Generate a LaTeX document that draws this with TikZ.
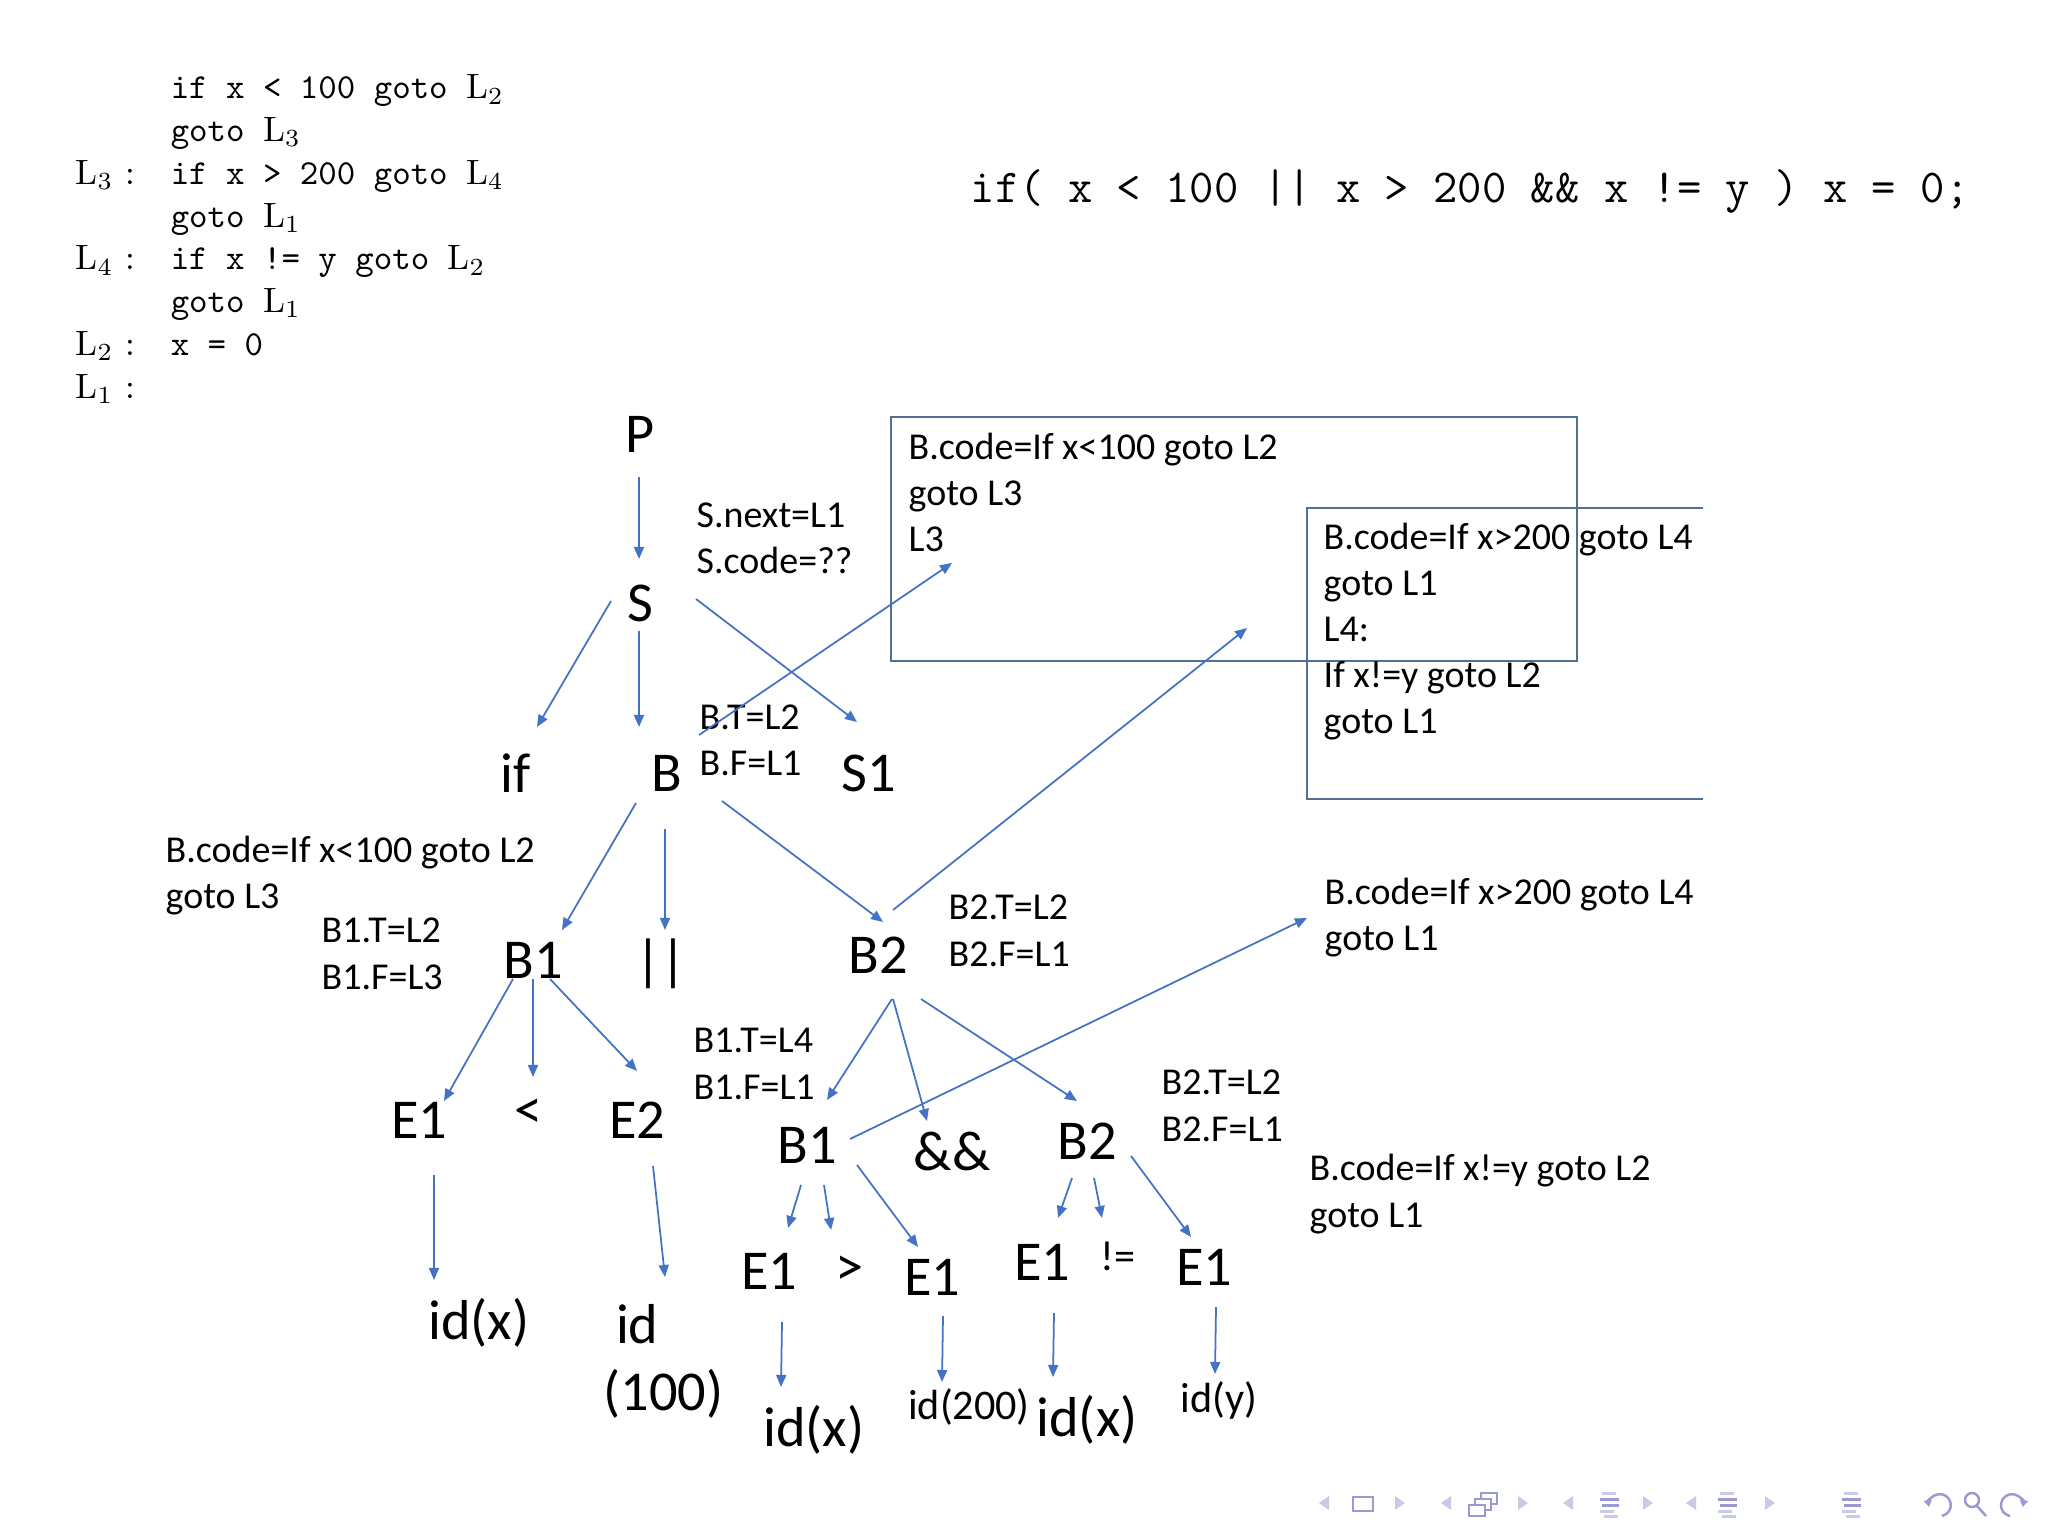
\documentclass[tikz,border=0pt]{standalone}
\usepackage{fontspec}
\usepackage{tikz}
\usetikzlibrary{arrows.meta, positioning}
\newfontfamily\treefont{Carlito}
\definecolor{ArrowBlue}{HTML}{4472C4}
\definecolor{BoxLine}{HTML}{52718F}
\definecolor{NavLight}{HTML}{CACAE8}
\definecolor{NavIcon}{HTML}{9A9AD2}

\begin{document}
\begin{tikzpicture}[x=0.01cm, y=-0.01cm,
    sym/.style={font=\treefont\fontsize{16}{19}\selectfont, inner sep=0pt},
    symsmall/.style={font=\treefont\fontsize{12}{14}\selectfont, inner sep=0pt},
    attr/.style={font=\treefont\fontsize{10.8}{13.1}\selectfont, align=left, inner sep=0pt, anchor=base west},
    edge/.style={draw=ArrowBlue, line width=0.5pt, -{Triangle[length=1.2mm, width=1mm]}},
    codebox/.style={draw=BoxLine, line width=0.5pt}]
  \useasboundingbox (0,0) rectangle (2048,1540);

  \node[anchor=base west, inner sep=0pt, font=\fontsize{10}{12.15}\selectfont] (tac) at (75,99) {%
    \begin{tabular}[t]{@{}p{0.95cm}@{}l@{}}
       & \texttt{if x < 100 goto }$\mathrm{L}_2$\\
       & \texttt{goto }$\mathrm{L}_3$\\
      $\mathrm{L}_3$ : & \texttt{if x > 200 goto }$\mathrm{L}_4$\\
       & \texttt{goto }$\mathrm{L}_1$\\
      $\mathrm{L}_4$ : & \texttt{if x != y goto }$\mathrm{L}_2$\\
       & \texttt{goto }$\mathrm{L}_1$\\
      $\mathrm{L}_2$ : & \texttt{x = 0}\\
      $\mathrm{L}_1$ : &
    \end{tabular}};
  \node[anchor=base west, inner sep=0pt, font=\ttfamily\fontsize{13.45}{16}\selectfont] (src) at (970,203) {if( x < 100 || x > 200 \&\& x != y ) x = 0;};

  \draw[codebox] (891,417) rectangle (1577,661);
  \node[attr] (boxa) at (908,552) {B.code=If x<100 goto L2\\goto L3\\L3};
  \draw[codebox] (1703,508) -- (1307,508) -- (1307,799) -- (1703,799);
  \node[attr] (boxb) at (1323,734) {B.code=If x>200 goto L4\\goto L1\\L4:\\If x!=y goto L2\\goto L1};
  \coordinate (boxtip) at (952,563);
  \coordinate (tipb) at (1247,628);
  \coordinate (tipc) at (1307,918);

  \node[sym] (P) at (640,434) {P};
  \node[sym] (S) at (640,603) {S};
  \node[sym] (if) at (516,773) {if};
  \node[sym] (B) at (667,773) {B};
  \node[sym] (S1) at (869,773) {S1};
  \node[sym] (B1) at (533,960) {B1};
  \node[sym] (oror) at (661,964) {||};
  \node[sym] (B2) at (878,955) {B2};
  \node[sym] (E1a) at (419,1120) {E1};
  \node[sym] (lt) at (529,1114) {<};
  \node[sym] (E2) at (637,1120) {E2};
  \node[sym] (idxa) at (479,1323) {id(x)};
  \node[sym, align=left, anchor=base west] (id100) at (603,1410) {\hspace*{3.5pt}id\\(100)};
  \node[sym] (B1b) at (807,1145) {B1};
  \node[sym] (and) at (952,1151) {\&\&};
  \node[sym] (B2b) at (1087,1141) {B2};
  \node[sym] (E1b) at (769,1271) {E1};
  \node[sym] (gt) at (850,1271) {>};
  \node[sym] (E1c) at (932,1277) {E1};
  \node[sym] (E1d) at (1042,1262) {E1};
  \node[symsmall] (ne) at (1118,1256) {!=};
  \node[sym] (E1e) at (1204,1267) {E1};
  \node[sym] (idxb) at (814,1430) {id(x)};
  \node[symsmall] (id200) at (969,1407) {id(200)};
  \node[sym] (idxc) at (1087,1420) {id(x)};
  \node[symsmall] (idy) at (1219,1400) {id(y)};

  \node[attr] (snext) at (696,574) {S.next=L1\\S.code=??};
  \node[attr] (bt) at (699,776) {B.T=L2\\B.F=L1};
  \node[attr] (bcodea) at (165,909) {B.code=If x<100 goto L2\\goto L3};
  \node[attr] (b1t) at (321,989) {B1.T=L2\\B1.F=L3};
  \node[attr] (b2t) at (948,966) {B2.T=L2\\B2.F=L1};
  \node[attr] (bcodeb) at (1324,951) {B.code=If x>200 goto L4\\goto L1};
  \node[attr] (b1tb) at (693,1099) {B1.T=L4\\B1.F=L1};
  \node[attr] (b2tb) at (1161,1141) {B2.T=L2\\B2.F=L1};
  \node[attr] (bcodec) at (1309,1227) {B.code=If x!=y goto L2\\goto L1};

  \draw[edge] ([shift={(-1,43)}]P.center) -- ([shift={(-1,-44)}]S.center);
  \draw[edge] ([shift={(-29,-2)}]S.center) -- ([shift={(21,-46)}]if.center);
  \draw[edge] ([shift={(-1,28)}]S.center) -- ([shift={(-28,-46)}]B.center);
  \draw[edge] ([shift={(56,-4)}]S.center) -- ([shift={(-12,-51)}]S1.center);
  \draw[edge] ([shift={(-31,30)}]B.center) -- ([shift={(29,-30)}]B1.center);
  \draw[edge] ([shift={(-2,56)}]B.center) -- ([shift={(4,-34)}]oror.center);
  \draw[edge] ([shift={(55,28)}]B.center) -- ([shift={(5,-33)}]B2.center);
  \draw[edge] ([shift={(-20,19)}]B1.center) -- ([shift={(25,-19)}]E1a.center);
  \draw[edge] ([shift={(0,19)}]B1.center) -- ([shift={(4,-37)}]lt.center);
  \draw[edge] ([shift={(17,19)}]B1.center) -- ([shift={(0,-49)}]E2.center);
  \draw[edge] ([shift={(15,55)}]E1a.center) -- ([shift={(-45,-43)}]idxa.center);
  \draw[edge] ([shift={(16,46)}]E2.center) -- ([shift={(62,-133)}]id100.base west);
  \draw[edge] ([shift={(14,44)}]B2.center) -- ([shift={(20,-45)}]B1b.center);
  \draw[edge] ([shift={(15,44)}]B2.center) -- ([shift={(-25,-30)}]and.center);
  \draw[edge] ([shift={(43,44)}]B2.center) -- ([shift={(-10,-40)}]B2b.center);
  \draw[edge] ([shift={(-6,40)}]B1b.center) -- ([shift={(19,-43)}]E1b.center);
  \draw[edge] ([shift={(17,40)}]B1b.center) -- ([shift={(-19,-41)}]gt.center);
  \draw[edge] ([shift={(50,20)}]B1b.center) -- ([shift={(-14,-30)}]E1c.center);
  \draw[edge] ([shift={(-15,37)}]B2b.center) -- ([shift={(16,-44)}]E1d.center);
  \draw[edge] ([shift={(7,37)}]B2b.center) -- ([shift={(-16,-38)}]ne.center);
  \draw[edge] ([shift={(44,15)}]B2b.center) -- ([shift={(-13,-30)}]E1e.center);
  \draw[edge] ([shift={(13,51)}]E1b.center) -- ([shift={(-33,-43)}]idxb.center);
  \draw[edge] ([shift={(11,39)}]E1c.center) -- ([shift={(-27,-25)}]id200.center);
  \draw[edge] ([shift={(12,51)}]E1d.center) -- ([shift={(-34,-43)}]idxc.center);
  \draw[edge] ([shift={(12,40)}]E1e.center) -- ([shift={(-4,-26)}]idy.center);
  \draw[edge] ([shift={(0,-41)}]bt.base west) -- (boxtip);
  \draw[edge] ([shift={(15,-45)}]B2.center) -- (tipb);
  \draw[edge] ([shift={(43,-6)}]B1b.center) -- (tipc);

  \foreach \x in {1324,1446,1568,1691}
    \fill[NavLight] (\x-5,1503) -- (\x+5,1496) -- (\x+5,1510) -- cycle;
  \foreach \x in {1400,1523,1648,1770}
    \fill[NavLight] (\x+5,1503) -- (\x-5,1496) -- (\x-5,1510) -- cycle;
  \draw[NavIcon, line width=0.6pt] (1353,1497) rectangle (1373,1511);
  \foreach \d in {0,6,12}
    \draw[NavIcon, fill=white, line width=0.6pt] (1481-\d,1493+\d) rectangle ++(16,11);
  \foreach \x in {1600,1718,1842} {
    \fill[NavLight] (\x+2,1492) rectangle ++(14,2.5);
    \fill[NavIcon] (\x,1498) rectangle ++(19,2.5);
    \fill[NavIcon] (\x+2,1504) rectangle ++(17,2.5);
    \fill[NavLight] (\x,1510) rectangle ++(14,2.5);
    \fill[NavLight] (\x+4,1515) rectangle ++(14,2.5);
  }
  \draw[NavIcon, line width=0.7pt, {Triangle[length=0.7mm, width=0.8mm]}-] (1929,1507) arc[start angle=170, end angle=440, radius=11];
  \draw[NavIcon, line width=0.7pt] (1972,1500) circle[radius=7] (1977,1506) -- (1986,1516);
  \draw[NavIcon, line width=0.7pt, -{Triangle[length=0.7mm, width=0.8mm]}] (2010,1516) arc[start angle=100, end angle=370, radius=11];
\end{tikzpicture}
\end{document}
